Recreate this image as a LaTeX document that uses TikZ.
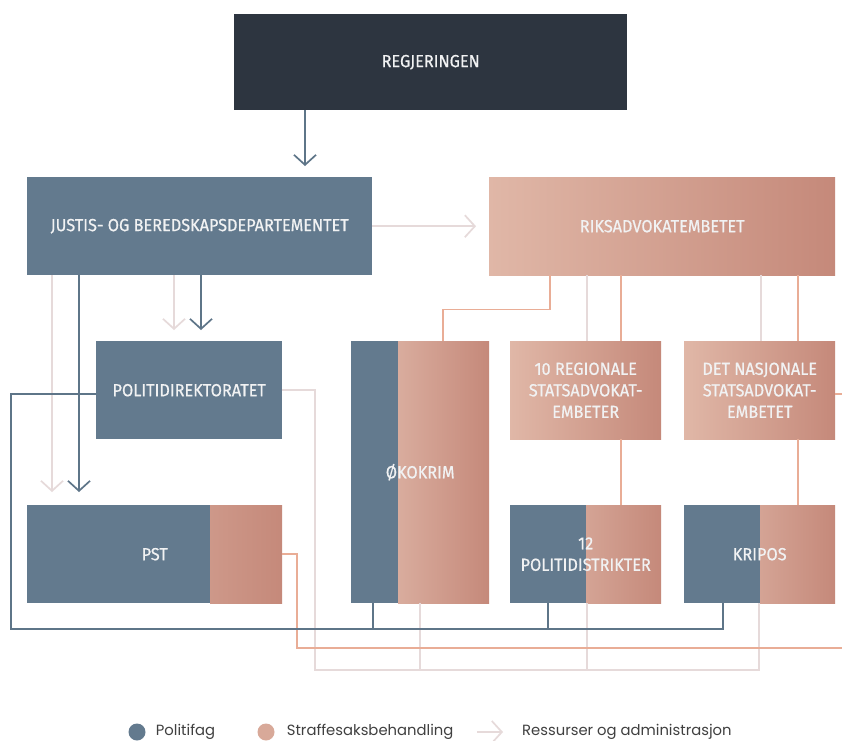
\documentclass[tikz,border=0pt]{standalone}
\usepackage{fontspec}
\usepackage{xcolor}
\usepackage{tikz}
\usetikzlibrary{positioning,calc,arrows.meta}

\newfontfamily\boxfont[FakeStretch=0.93,FakeBold=0.7]{Fira Sans}
\newfontfamily\legfont{Poppins}

\definecolor{regdark}{HTML}{2D3540}
\definecolor{fagblue}{HTML}{637A8E}
\definecolor{sakL}{HTML}{E0B7A7}
\definecolor{sakR}{HTML}{C5897A}
\definecolor{fagline}{HTML}{5E7588}
\definecolor{sakline}{HTML}{E9AD96}
\definecolor{resline}{HTML}{E6DADA}
\definecolor{boxtext}{HTML}{F1F2F3}

\tikzset{
  org/.style={anchor=north west, inner sep=0pt, align=center, text=boxtext,
    font=\boxfont\fontsize{17.5}{21.5}\selectfont},
  fag/.style={org, fill=fagblue},
  sak/.style={org, left color=sakL, right color=sakR},
  delt/.style={fag, path picture={
      \shade[left color=sakL!90!white, right color=sakR]
        ([xshift=#1]path picture bounding box.south west)
        rectangle (path picture bounding box.north east);}},
  fagarrow/.style={draw=fagline, line width=1.7pt, ->},
  resarrow/.style={draw=resline, line width=1.7pt, ->},
  fagwire/.style={draw=fagline, line width=1.7pt},
  sakwire/.style={draw=sakline, line width=1.7pt},
  reswire/.style={draw=resline, line width=1.7pt},
  legtext/.style={anchor=west, inner sep=0pt, text=black!75,
    font=\legfont\fontsize{14.8}{16}\selectfont},
}

\begin{document}
\begin{tikzpicture}[x=1pt, y=-1pt, >={Straight Barb[length=10pt,width=22pt]}]
    \useasboundingbox (0,0) rectangle (842,740);
    \fill[white] (0,0) rectangle (842,740);
    \clip (0,0) rectangle (842,740);

    % Boxes
    \node[org, fill=regdark, minimum width=393pt, minimum height=96pt] (reg) at (234,14) {REGJERINGEN};
    \node[fag, minimum width=345pt, minimum height=98pt] (jbd) at (27,177) {JUSTIS- OG BEREDSKAPSDEPARTEMENTET};
    \node[sak, minimum width=346pt, minimum height=98pt] (riks) at (489,177) {RIKSADVOKATEMBETET};
    \node[fag, minimum width=186pt, minimum height=98pt] (pod) at (96,341) {POLITIDIREKTORATET};
    \node[delt=183pt, minimum width=255pt, minimum height=98pt] (pst) at (27,505) {PST};
    \node[delt=47pt, minimum width=138pt, minimum height=262pt] (okokrim) at (351,341) {ØKOKRIM};
    \node[sak, minimum width=151pt, minimum height=98pt] (regsa) at (510,341) {10 REGIONALE\\STATSADVOKAT-\\EMBETER};
    \node[sak, minimum width=151pt, minimum height=98pt] (nasjsa) at (684,341) {DET NASJONALE\\STATSADVOKAT-\\EMBETET};
    \node[delt=76pt, minimum width=151pt, minimum height=98pt] (pdist) at (510,505) {12\\POLITIDISTRIKTER};
    \node[delt=76pt, minimum width=151pt, minimum height=98pt] (kripos) at (684,505) {KRIPOS};

    % Bus corners
    \coordinate (fagbus) at (11,629);
    \coordinate (sakbus) at (297,648);
    \coordinate (sakrim) at (850,648);
    \coordinate (resbus) at (315,670);
    \coordinate (okfoot) at ([xshift=22pt]okokrim.south west);
    \coordinate (pdfoot) at ([xshift=38pt]pdist.south west);
    \coordinate (okres) at ([xshift=69pt]okokrim.south west);
    \coordinate (pdres) at ([xshift=77pt]pdist.south west);

    % Ressurser og administrasjon
    \draw[resarrow, shorten >=13pt] (jbd.east) -- (riks.west);
    \draw[resarrow, shorten >=11pt] ([xshift=147pt]jbd.south west) -- ([xshift=78pt]pod.north west);
    \draw[resarrow, shorten >=13pt] ([xshift=25pt]jbd.south west) -- ([xshift=25pt]pst.north west);
    \draw[reswire] (pod.east) -| (resbus) -| ([xshift=75pt]kripos.south west);
    \draw[reswire] (okres) -- (okres |- resbus);
    \draw[reswire] (pdres) -- (pdres |- resbus);
    \draw[reswire] ([xshift=98pt]riks.south west) -- ([xshift=77pt]regsa.north west);
    \draw[reswire] ([xshift=272pt]riks.south west) -- ([xshift=77pt]nasjsa.north west);

    % Straffesaksbehandling
    \draw[sakwire] (pst.east) -| (sakbus) -- (sakrim) |- ([yshift=-4pt]nasjsa.east);
    \draw[sakwire] ([xshift=61pt]riks.south west) -- ++(0,34) -| ([xshift=92pt]okokrim.north west);
    \draw[sakwire] ([xshift=132pt]riks.south west) -- ([xshift=111pt]regsa.north west);
    \draw[sakwire] ([xshift=111pt]regsa.south west) -- ([xshift=111pt]pdist.north west);
    \draw[sakwire] ([xshift=309pt]riks.south west) -- ([xshift=114pt]nasjsa.north west);
    \draw[sakwire] ([xshift=114pt]nasjsa.south west) -- ([xshift=114pt]kripos.north west);

    % Politifag
    \draw[fagarrow, shorten >=11pt] ([xshift=71pt]reg.south west) -- ([xshift=278pt]jbd.north west);
    \draw[fagarrow, shorten >=11pt] ([xshift=174pt]jbd.south west) -- ([xshift=105pt]pod.north west);
    \draw[fagarrow, shorten >=13pt] ([xshift=52pt]jbd.south west) -- ([xshift=52pt]pst.north west);
    \draw[fagwire] ([yshift=-4pt]pod.west) -| (fagbus) -| ([xshift=39pt]kripos.south west);
    \draw[fagwire] (okfoot) -- (okfoot |- fagbus);
    \draw[fagwire] (pdfoot) -- (pdfoot |- fagbus);

    % Legend
    \node[circle, fill=fagblue, minimum size=17pt, inner sep=0pt] (legfag) at (137,732) {};
    \node[legtext, right=10pt of legfag] (txtfag) {Politifag};
    \node[circle, fill=sakL!70!sakR, minimum size=17pt, inner sep=0pt] (legsak) at (266,732) {};
    \node[legtext, right=12pt of legsak] (txtsak) {Straffesaksbehandling};
    \coordinate (legres) at (477,732);
    \node[legtext] (txtres) at (522,732) {Ressurser og administrasjon};
    \draw[resarrow] (legres) -- ([xshift=-19pt]txtres.west);
\end{tikzpicture}
\end{document}
